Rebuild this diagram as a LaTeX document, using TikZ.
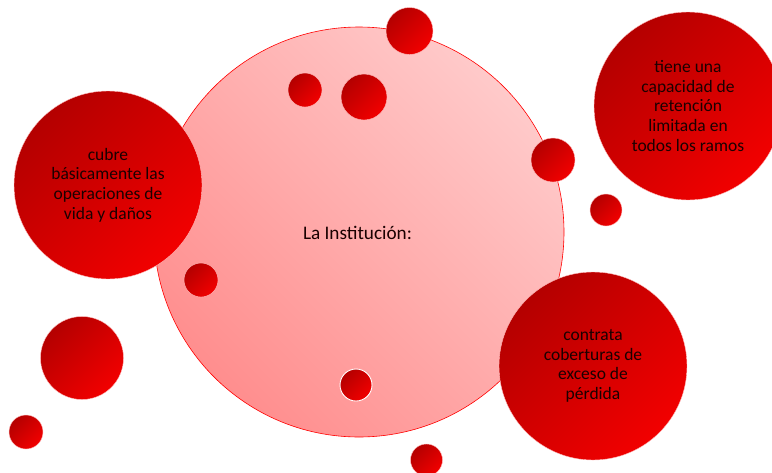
\documentclass[tikz,border=0pt]{standalone}
\usepackage{fontspec}
\setmainfont{Carlito}
\definecolor{darkred}{HTML}{B40000}
\definecolor{brightred}{HTML}{F20000}
\definecolor{pinklight}{HTML}{FFCACA}
\definecolor{pinkdark}{HTML}{FF8E8E}
\definecolor{txt}{HTML}{1A0000}
\begin{document}
\begin{tikzpicture}[x=1pt,y=-1pt,
  redball/.style={circle,inner sep=0pt,top color=darkred,bottom color=brightred,shading angle=45,draw=red!25!white,line width=0.4pt},
  ring/.style={redball,draw=white,line width=0.9pt},
  bigball/.style={circle,inner sep=0pt,top color=pinklight,bottom color=pinkdark,shading angle=-45,draw=red,line width=0.6pt},
  lbl/.style={align=center,text=txt,font=\fontsize{17.5}{19.6}\selectfont}]
\useasboundingbox (0,0) rectangle (772,472);
% main circle
\node[bigball,minimum size=410pt] (main) at (359,232) {};
\node[lbl,font=\fontsize{19.2}{22}\selectfont] (mainlbl) at (357.5,233) {La Institución:};
% small circles
\node[redball,minimum size=47pt] (s1) at (409.5,31) {};
\node[redball,minimum size=34pt] (s2) at (305,90) {};
\node[redball,minimum size=46pt] (s3) at (364,97) {};
\node[redball,minimum size=44pt] (s4) at (553,160) {};
\node[redball,minimum size=32pt] (s5) at (606,210) {};
\node[redball,minimum size=34pt] (s6) at (201,280) {};
\node[ring,minimum size=32pt] (s7) at (356,385) {};
\node[redball,minimum size=32pt] (s8) at (426.5,460) {};
\node[redball,minimum size=83pt] (s9) at (82,358) {};
\node[redball,minimum size=34pt] (s10) at (26,432) {};
% text circles
\node[redball,minimum size=188pt] (left) at (108,185) {};
\node[lbl] (leftlbl) at (108,185) {cubre\\básicamente las\\operaciones de\\vida y daños};
\node[redball,minimum size=188pt] (topright) at (688,106) {};
\node[lbl] (toprightlbl) at (688,106) {tiene una\\capacidad de\\retención\\limitada en\\todos los ramos};
\node[redball,minimum size=188pt] (botright) at (593,366) {};
\node[lbl] (botrightlbl) at (593,366) {contrata\\coberturas de\\exceso de\\pérdida};
\end{tikzpicture}
\end{document}
